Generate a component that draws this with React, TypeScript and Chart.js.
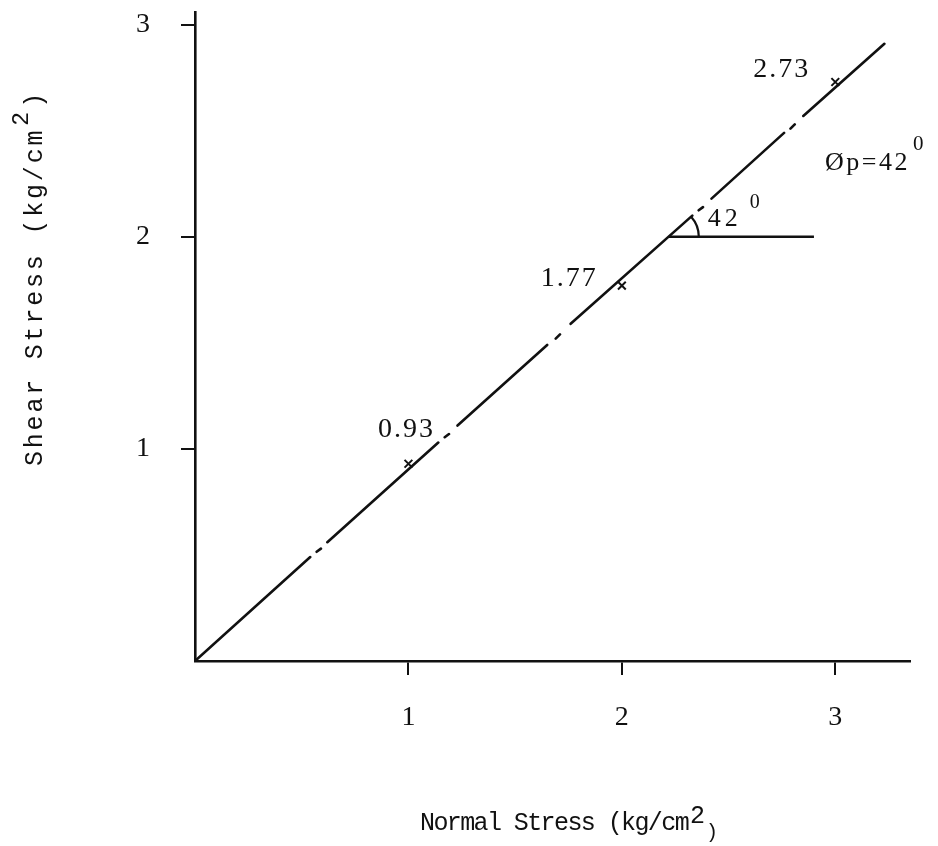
import React, { useEffect, useRef } from 'react';
import { Chart, registerables } from 'chart.js';

Chart.register(...registerables);

// ---- data ----
const X_TICKS = [1, 2, 3];
const Y_TICKS = [1, 2, 3];
const X_MAX = 3.35;
const Y_MAX = 3.06;

const NORMAL_STRESS = [1, 2, 3];
const SHEAR_STRESS = [0.93, 1.77, 2.73];
const POINT_LABELS = ['0.93', '1.77', '2.73'];

// failure envelope (hand-drawn, with small breaks)
const LINE_X = [0, 0.54, 0.555, 0.57, 0.59, 0.605, 0.62, 1.14, 1.155, 1.17, 1.19, 1.21, 1.23, 1.65, 1.67, 1.69, 1.71, 1.735, 1.76, 2.33, 2.345, 2.36, 2.38, 2.4, 2.42, 2.76, 2.775, 2.79, 2.81, 2.83, 2.85, 3.23];
const LINE_Y = [0, 0.49, null, 0.515, 0.53, null, 0.56, 1.03, null, 1.055, 1.07, null, 1.11, 1.49, null, 1.52, 1.54, null, 1.59, 2.1, null, 2.125, 2.14, null, 2.18, 2.49, null, 2.51, 2.53, null, 2.57, 2.91];

const HORIZ_X = [2.22, 2.9];
const HORIZ_Y = [2, 2];
const PHI_DEG = 42;

const X_TITLE = 'Normal Stress (kg/cm';
const Y_TITLE = 'Shear Stress (kg/cm';
const SUP = '2';
const PHI_TEXT = 'Øp=42';
const ANGLE_TEXT = '42';
const DEG_TEXT = '0';

const SERIF = '"Liberation Serif", "DejaVu Serif", serif';
const MONO = '"Liberation Mono", "DejaVu Sans Mono", monospace';

function setSpacing(ctx: any, v: string) {
  try { ctx.letterSpacing = v; } catch (e) { /* ignore */ }
}

const annotatePlugin = {
  id: 'annotate',
  afterDatasetsDraw(chart: any) {
    const ctx = chart.ctx as CanvasRenderingContext2D;
    const xs = chart.scales.x;
    const ys = chart.scales.y;
    ctx.save();
    ctx.fillStyle = '#111';
    ctx.strokeStyle = '#111';

    // point labels
    const offs = [
      { dx: -2, dy: -34, align: 'center' },
      { dx: -24, dy: -7, align: 'right' },
      { dx: -25, dy: -12, align: 'right' },
    ];
    ctx.font = `28px ${SERIF}`;
    ctx.textBaseline = 'middle';
    setSpacing(ctx, '2px');
    NORMAL_STRESS.forEach((x, i) => {
      const px = xs.getPixelForValue(x);
      const py = ys.getPixelForValue(SHEAR_STRESS[i]);
      const o = offs[i];
      ctx.textAlign = o.align as CanvasTextAlign;
      ctx.fillText(POINT_LABELS[i], px + o.dx, py + o.dy);
    });

    // angle arc at vertex
    const vx = xs.getPixelForValue(HORIZ_X[0]);
    const vy = ys.getPixelForValue(HORIZ_Y[0]);
    ctx.lineWidth = 2.2;
    ctx.beginPath();
    ctx.arc(vx, vy, 30, -PHI_DEG * Math.PI / 180, 0);
    ctx.stroke();

    ctx.textAlign = 'center';
    ctx.font = `26px ${SERIF}`;
    setSpacing(ctx, '4px');
    ctx.fillText(ANGLE_TEXT, vx + 56, vy - 18);
    setSpacing(ctx, '0px');
    ctx.font = `20px ${SERIF}`;
    ctx.fillText(DEG_TEXT, vx + 86, vy - 34);

    // phi label
    const lx = xs.getPixelForValue(2.952);
    const ly = ys.getPixelForValue(2.348);
    ctx.textAlign = 'left';
    ctx.font = `26px ${SERIF}`;
    setSpacing(ctx, '2.5px');
    ctx.fillText(PHI_TEXT, lx, ly);
    const pw = ctx.measureText(PHI_TEXT).width;
    setSpacing(ctx, '0px');
    ctx.font = `21px ${SERIF}`;
    ctx.fillText(DEG_TEXT, lx + pw + 3, ly - 19);

    // x title
    ctx.textBaseline = 'alphabetic';
    ctx.textAlign = 'left';
    ctx.font = `25px ${MONO}`;
    setSpacing(ctx, '-1.6px');
    ctx.fillText(X_TITLE, 420, 830);
    const xw = ctx.measureText(X_TITLE).width;
    setSpacing(ctx, '0px');
    ctx.font = `25px ${MONO}`;
    ctx.fillText(SUP, 420 + xw + 2, 823);
    ctx.font = `20px ${MONO}`;
    ctx.fillText(')', 420 + xw + 18, 838);

    // y title (rotated)
    ctx.save();
    ctx.translate(42, 466);
    ctx.rotate(-Math.PI / 2);
    ctx.font = `25px ${MONO}`;
    setSpacing(ctx, '2.8px');
    ctx.fillText(Y_TITLE, 0, 0);
    const yw = ctx.measureText(Y_TITLE).width;
    setSpacing(ctx, '0px');
    ctx.font = `23px ${MONO}`;
    ctx.fillText(SUP, yw + 2, -14);
    ctx.font = `25px ${MONO}`;
    ctx.fillText(')', yw + 20, 0);
    ctx.restore();

    ctx.restore();
  },
};

export default function App() {
  const ref = useRef<HTMLCanvasElement | null>(null);

  useEffect(() => {
    if (!ref.current) return;
    const lineData = LINE_X.map((x, i) => ({ x, y: LINE_Y[i] }));
    const horizData = HORIZ_X.map((x, i) => ({ x, y: HORIZ_Y[i] }));
    const pointData = NORMAL_STRESS.map((x, i) => ({ x, y: SHEAR_STRESS[i] }));

    const chart = new Chart(ref.current, {
      type: 'scatter',
      data: {
        datasets: [
          {
            data: lineData as any,
            showLine: true,
            spanGaps: false,
            borderColor: '#111',
            borderWidth: 2.6,
            borderCapStyle: 'round',
            pointRadius: 0,
          },
          {
            data: horizData as any,
            showLine: true,
            borderColor: '#111',
            borderWidth: 2.4,
            pointRadius: 0,
          },
          {
            data: pointData as any,
            showLine: false,
            pointStyle: 'crossRot',
            pointRadius: 5.5,
            borderColor: '#111',
            borderWidth: 2,
          },
        ],
      },
      options: {
        animation: false,
        responsive: true,
        maintainAspectRatio: false,
        layout: { padding: { top: 12, right: 28, left: 0, bottom: 0 } },
        plugins: { legend: { display: false }, tooltip: { enabled: false } },
        scales: {
          x: {
            type: 'linear',
            min: 0,
            max: X_MAX,
            afterBuildTicks: (s: any) => { s.ticks = X_TICKS.map((v) => ({ value: v })); },
            afterFit: (s: any) => { s.height = 185; s.paddingLeft = 0; s.paddingRight = 0; },
            grid: { drawOnChartArea: false, drawTicks: true, tickLength: 14, color: '#111', lineWidth: 2 },
            border: { display: true, color: '#111', width: 2.6 },
            ticks: { color: '#111', padding: 26, font: { family: SERIF, size: 28 }, maxRotation: 0 },
          },
          y: {
            type: 'linear',
            min: 0,
            max: Y_MAX,
            afterBuildTicks: (s: any) => { s.ticks = Y_TICKS.map((v) => ({ value: v })); },
            afterFit: (s: any) => { s.width = 195; s.paddingTop = 0; s.paddingBottom = 0; },
            grid: { drawOnChartArea: false, drawTicks: true, tickLength: 14, color: '#111', lineWidth: 2 },
            border: { display: true, color: '#111', width: 2.6 },
            ticks: { color: '#111', padding: 31, font: { family: SERIF, size: 28 } },
          },
        },
      },
      plugins: [annotatePlugin],
    });
    return () => chart.destroy();
  }, []);

  return (
    <div style={{ position: 'absolute', left: 0, top: 0, width: 938, height: 846, background: '#fff' }}>
      <canvas ref={ref} />
    </div>
  );
}
